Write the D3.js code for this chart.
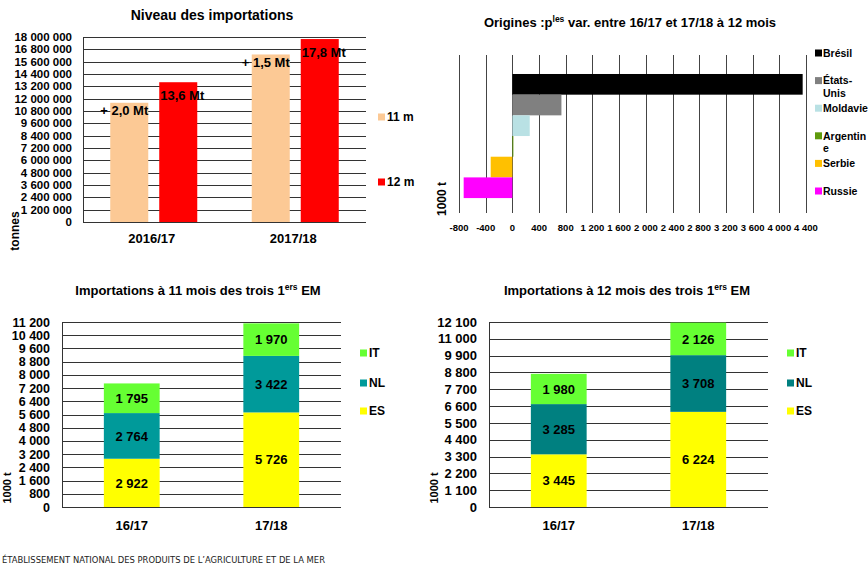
<!DOCTYPE html>
<html>
<head>
<meta charset="utf-8">
<script src="https://cdn.jsdelivr.net/npm/d3@7"></script>
<style>
body { margin: 0; background: #fff; }
svg text { font-family: "Liberation Sans", Arial, sans-serif; font-weight: bold; fill: #000; }
.grid line { stroke: #333; stroke-width: 1; shape-rendering: crispEdges; }
</style>
</head>
<body>
<svg id="chart" width="868" height="567"></svg>
<script>
// ---- data ----
var years = ['2016/17', '2017/18'];
var periods = ['11 m', '12 m'];
var imports11m = [11600000, 16300000];
var imports12m = [13600000, 17800000];
var labels11m = ['+ 2,0 Mt', '+ 1,5 Mt'];
var labels12m = ['13,6 Mt', '17,8 Mt'];
var importTicks = d3.range(0, 18000001, 1200000);

var origins = ['Brésil', 'États-Unis', 'Moldavie', 'Argentine', 'Serbie', 'Russie'];
var originLegend = [['Brésil'], ['États-', 'Unis'], ['Moldavie'], ['Argentin', 'e'], ['Serbie'], ['Russie']];
var originVar = [4350, 735, 260, 15, -325, -730];
var originTicks = d3.range(-800, 4401, 400);

var campaigns = ['16/17', '17/18'];
var members = ['ES', 'NL', 'IT'];
var es11 = [2922, 5726], nl11 = [2764, 3422], it11 = [1795, 1970];
var es12 = [3445, 6224], nl12 = [3285, 3708], it12 = [1980, 2126];
var ticks11 = d3.range(0, 11201, 800);
var ticks12 = d3.range(0, 12101, 1100);

var fr = d3.formatLocale({decimal: ',', thousands: ' ', grouping: [3], currency: ['', '']}).format(',');

var svg = d3.select('#chart');
svg.append('rect').attr('width', 868).attr('height', 567).attr('fill', '#fff');

// ================= Niveau des importations =================
var y1 = d3.scaleLinear().domain([0, 18000000]).range([222, 37]);
var x1 = d3.scaleBand().domain(years).range([83, 366]);
var xs1 = d3.scaleBand().domain(periods).range([0, x1.bandwidth()]).paddingInner(0.224).paddingOuter(0.556);
var col1 = {'11 m': '#fcc995', '12 m': '#ff0000'};

var c1 = svg.append('g');
c1.append('text').attr('x', 212).attr('y', 20).attr('text-anchor', 'middle')
	.style('font-size', '14px').text('Niveau des importations');

c1.append('g').attr('class', 'grid').selectAll('line')
	.data(importTicks).enter().append('line')
	.attr('x1', 83).attr('x2', 366)
	.attr('y1', function(d) { return Math.round(y1(d)) + 0.5; }).attr('y2', function(d) { return Math.round(y1(d)) + 0.5; });

c1.append('line').attr('x1', 83.5).attr('x2', 83.5).attr('y1', 37).attr('y2', 222).attr('stroke', '#333');

c1.append('g').selectAll('text')
	.data(importTicks).enter().append('text')
	.attr('x', 72).attr('y', function(d) { return y1(d); }).attr('dy', '0.36em')
	.attr('text-anchor', 'end').style('font-size', '11.5px')
	.text(function(d) { return fr(d); });

var importRows = years.map(function(y, i) {
	return [{year: y, p: '11 m', v: imports11m[i], label: labels11m[i]},
	        {year: y, p: '12 m', v: imports12m[i], label: labels12m[i]}];
});
var flat = [].concat.apply([], importRows);

c1.append('g').selectAll('rect')
	.data(flat).enter().append('rect')
	.attr('x', function(d) { return x1(d.year) + xs1(d.p); })
	.attr('width', xs1.bandwidth())
	.attr('y', function(d) { return y1(d.v); })
	.attr('height', function(d) { return y1(0) - y1(d.v); })
	.attr('fill', function(d) { return col1[d.p]; });

c1.append('g').selectAll('text')
	.data(flat).enter().append('text')
	.attr('x', function(d) { return x1(d.year) + xs1(d.p) + xs1.bandwidth() / 2 + (d.p == '11 m' ? -5 : 4); })
	.attr('y', function(d) { return y1(d.v) + (d.p == '11 m' ? 8 : 13); })
	.attr('dy', '0.36em').attr('text-anchor', 'middle').style('font-size', '13px')
	.text(function(d) { return d.label; });

c1.append('g').selectAll('text')
	.data(years).enter().append('text')
	.attr('x', function(d) { return x1(d) + x1.bandwidth() / 2 - 2; }).attr('y', 243)
	.attr('text-anchor', 'middle').style('font-size', '13px')
	.text(function(d) { return d; });

c1.append('text').attr('transform', 'translate(19,231) rotate(-90)')
	.attr('text-anchor', 'middle').style('font-size', '12px').text('tonnes');

var leg1 = c1.append('g').selectAll('g').data(periods).enter().append('g')
	.attr('transform', function(d, i) { return 'translate(378,' + (117 + i * 65) + ')'; });
leg1.append('rect').attr('y', -3.5).attr('width', 7).attr('height', 7).attr('fill', function(d) { return col1[d]; });
leg1.append('text').attr('x', 9).attr('dy', '0.36em').style('font-size', '12px').text(function(d) { return d; });

// ================= Origines =================
var x2 = d3.scaleLinear().domain([-800, 4400]).range([459, 806]);
var y2 = d3.scaleBand().domain(origins).range([55, 213]).paddingOuter(0.82).align(0.56);
var col2 = ['#000000', '#808080', '#b9e1e4', '#5f9a0c', '#ffc000', '#ff00ff'];

var c2 = svg.append('g');
var t2 = c2.append('text').attr('x', 630).attr('y', 27).attr('text-anchor', 'middle').style('font-size', '13px');
t2.append('tspan').text('Origines :p');
t2.append('tspan').attr('baseline-shift', 'super').style('font-size', '8.5px').text('les');
t2.append('tspan').text(' var. entre 16/17 et 17/18 à 12 mois');

c2.append('g').attr('class', 'grid').selectAll('line')
	.data(originTicks).enter().append('line')
	.attr('x1', function(d) { return Math.round(x2(d)) + 0.5; })
	.attr('x2', function(d) { return Math.round(x2(d)) + 0.5; })
	.attr('y1', 55).attr('y2', 213)
	.style('stroke', '#444');

c2.append('g').selectAll('rect')
	.data(origins).enter().append('rect')
	.attr('x', function(d, i) { return x2(Math.min(0, originVar[i])); })
	.attr('width', function(d, i) { return Math.abs(x2(originVar[i]) - x2(0)); })
	.attr('y', function(d) { return y2(d); })
	.attr('height', y2.bandwidth())
	.attr('fill', function(d, i) { return col2[i]; });

c2.append('g').selectAll('text')
	.data(originTicks).enter().append('text')
	.attr('x', function(d) { return x2(d); }).attr('y', 231)
	.attr('text-anchor', 'middle').style('font-size', '9.5px')
	.text(function(d) { return fr(d).replace('−', '-'); });

c2.append('text').attr('transform', 'translate(446,199) rotate(-90)')
	.attr('text-anchor', 'middle').style('font-size', '12px').text('1000 t');

var leg2 = c2.append('g').selectAll('g').data(origins).enter().append('g')
	.attr('transform', function(d, i) { return 'translate(815,' + (53 + i * 27.6) + ')'; });
leg2.append('rect').attr('y', -3.5).attr('width', 7).attr('height', 7).attr('fill', function(d, i) { return col2[i]; });
leg2.append('text').attr('x', 8).style('font-size', '10.5px')
	.selectAll('tspan').data(function(d, i) { return originLegend[i]; }).enter().append('tspan')
	.attr('x', 8).attr('y', function(d, j) { return j * 12.5; }).attr('dy', '0.36em')
	.text(function(d) { return d; });

// ================= stacked EM charts =================
function stackChart(o) {
	var g = svg.append('g');
	var x = d3.scaleBand().domain(campaigns).range([o.left, o.left + 279]).paddingInner(0.6).paddingOuter(0.3);
	var y = d3.scaleLinear().domain([0, o.ticks[o.ticks.length - 1]]).range([507, 322]);
	var color = {ES: '#ffff00', NL: o.nlColor, IT: '#66ff33'};

	var rows = campaigns.map(function(c, i) { return {c: c, ES: o.es[i], NL: o.nl[i], IT: o.it[i]}; });
	var series = d3.stack().keys(members)(rows);

	var t = g.append('text').attr('x', o.titleX).attr('y', 295).attr('text-anchor', 'middle').style('font-size', '13px');
	t.append('tspan').text(o.title);
	t.append('tspan').attr('baseline-shift', 'super').style('font-size', '8.5px').text('ers');
	t.append('tspan').text(' EM');

	g.append('g').attr('class', 'grid').selectAll('line')
		.data(o.ticks).enter().append('line')
		.attr('x1', o.left).attr('x2', o.left + 279)
		.attr('y1', function(d) { return Math.round(y(d)) + 0.5; })
		.attr('y2', function(d) { return Math.round(y(d)) + 0.5; });
	g.append('line').attr('x1', o.left + 0.5).attr('x2', o.left + 0.5).attr('y1', 322).attr('y2', 507).attr('stroke', '#333');

	g.append('g').selectAll('text')
		.data(o.ticks).enter().append('text')
		.attr('x', o.left - 12).attr('y', function(d) { return y(d); }).attr('dy', '0.36em')
		.attr('text-anchor', 'end').style('font-size', o.tickSize)
		.text(function(d) { return fr(d); });

	var layer = g.append('g').selectAll('g').data(series).enter().append('g')
		.attr('fill', function(d) { return color[d.key]; });
	layer.selectAll('rect').data(function(d) { return d; }).enter().append('rect')
		.attr('x', function(d) { return x(d.data.c); })
		.attr('width', x.bandwidth())
		.attr('y', function(d) { return y(d[1]); })
		.attr('height', function(d) { return y(d[0]) - y(d[1]); });

	series.forEach(function(s) {
		g.append('g').selectAll('text').data(s).enter().append('text')
			.attr('x', function(d) { return x(d.data.c) + x.bandwidth() / 2; })
			.attr('y', function(d) { return (y(d[0]) + y(d[1])) / 2; })
			.attr('dy', '0.36em').attr('text-anchor', 'middle').style('font-size', '13px')
			.text(function(d) { return fr(d[1] - d[0]); });
	});

	g.append('g').selectAll('text')
		.data(campaigns).enter().append('text')
		.attr('x', function(d) { return x(d) + x.bandwidth() / 2; }).attr('y', 530)
		.attr('text-anchor', 'middle').style('font-size', '13px')
		.text(function(d) { return d; });

	g.append('text').attr('transform', 'translate(' + (o.left - 51) + ',488) rotate(-90)')
		.attr('text-anchor', 'middle').style('font-size', '11px').text('1000 t');

	var leg = g.append('g').selectAll('g').data(members.slice().reverse()).enter().append('g')
		.attr('transform', function(d, i) { return 'translate(' + o.legX + ',' + [353, 383, 411][i] + ')'; });
	leg.append('rect').attr('y', -3.5).attr('width', 7).attr('height', 7).attr('fill', function(d) { return color[d]; });
	leg.append('text').attr('x', 9).attr('dy', '0.36em').style('font-size', '12px').text(function(d) { return d; });
}

stackChart({left: 62, ticks: ticks11, es: es11, nl: nl11, it: it11, nlColor: '#009a9a',
	title: 'Importations à 11 mois des trois 1', titleX: 198, legX: 360, tickSize: '12.5px'});
stackChart({left: 489, ticks: ticks12, es: es12, nl: nl12, it: it12, nlColor: '#008080',
	title: 'Importations à 12 mois des trois 1', titleX: 627, legX: 787, tickSize: '13px'});

// footer
svg.append('text').attr('x', 2).attr('y', 563)
	.style('font-family', '"Liberation Sans Narrow", "DejaVu Sans Condensed", sans-serif')
	.style('font-weight', 'normal').style('font-size', '9.5px').style('fill', '#222')
	.attr('textLength', 323).attr('lengthAdjust', 'spacingAndGlyphs')
	.text('ÉTABLISSEMENT NATIONAL DES PRODUITS DE L’AGRICULTURE ET DE LA MER');
</script>
</body>
</html>
